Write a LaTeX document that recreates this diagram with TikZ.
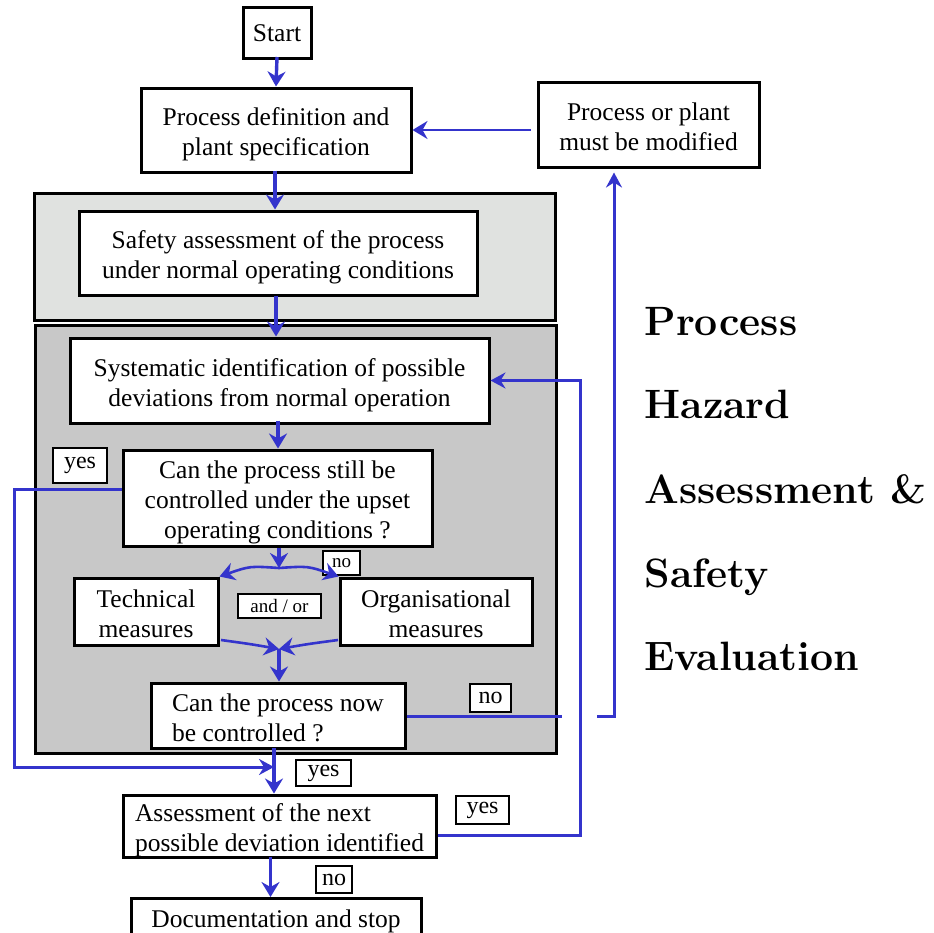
\documentclass[tikz,border=0pt]{standalone}
\usepackage{fontspec}
\newfontfamily\boxfont{Liberation Serif}
\usetikzlibrary{arrows.meta}
\definecolor{flowblue}{RGB}{52,52,204}
\definecolor{panellight}{RGB}{224,226,224}
\definecolor{paneldark}{RGB}{200,200,200}
% lines of a box, each on a full strut, set a little below the frame's middle
\newcommand\boxlines[2]{\raisebox{-4.5pt}[\height][\depth]{\begin{tabular}{@{}#1@{}}#2\end{tabular}}}
\begin{document}
\begin{tikzpicture}[x=1pt,y=-1pt,
  box/.style={draw=black, line width=3pt, fill=white, inner sep=0pt,
    font=\boxfont\fontsize{25.5}{30}\selectfont},
  tag/.style={draw=black, line width=2.6pt, fill=white, inner sep=0pt,
    font=\boxfont\fontsize{24}{26}\selectfont},
  smalltag/.style={tag, font=\boxfont\fontsize{19}{22}\selectfont},
  panel/.style={draw=black, line width=3pt},
  flow/.style={draw=flowblue, line width=3.4pt,
    -{Stealth[length=15pt,width=18pt,inset=5pt]}},
  loop/.style={draw=flowblue, line width=3pt},
  looparrow/.style={loop, -{Stealth[length=15pt,width=16pt,inset=5pt]}},
  title/.style={anchor=base west, font=\fontsize{41}{48}\selectfont\bfseries}
]
\clip (0,0) rectangle (934,932);
\useasboundingbox (0,0) rectangle (934,932);

% shaded panels
\path[panel, fill=panellight] (34,193) rectangle (555,320);
\path[panel, fill=paneldark] (35,325) rectangle (556,753);

% process steps
\node[box, minimum width=68pt, minimum height=51pt] (start) at (277,33) {Start};
\node[box, minimum width=270pt, minimum height=84pt] (procdef) at (276,130)
  {\boxlines{c}{Process definition and\\plant specification}};
\node[box, minimum width=221pt, minimum height=85pt] (modified) at (648.5,124.5)
  {\boxlines{c}{Process or plant\\must be modified}};
\node[box, minimum width=398pt, minimum height=84pt] (safety) at (278,253)
  {\boxlines{c}{Safety assessment of the process\\under normal operating conditions}};
\node[box, minimum width=419pt, minimum height=85pt] (systematic) at (279.5,380.5)
  {\boxlines{c}{Systematic identification of possible\\deviations from normal operation}};
\node[box, minimum width=309pt, minimum height=96pt] (canstill) at (277.5,498)
  {\boxlines{c}{Can the process still be\\controlled under the upset\\operating conditions ?}};
\node[box, minimum width=144pt, minimum height=67pt] (technical) at (146,611.5)
  {\boxlines{c}{Technical\\measures}};
\node[box, minimum width=192pt, minimum height=67pt] (organisational) at (436,611.5)
  {\boxlines{c}{Organisational\\measures}};
\node[box, minimum width=254pt, minimum height=65pt] (cannow) at (278,715.5)
  {\boxlines{l}{Can the process now\\be controlled ?}};
\node[box, minimum width=313pt, minimum height=62pt] (assess) at (279.5,826)
  {\boxlines{l}{Assessment of the next\\possible deviation identified}};
\node[box, minimum width=290pt, minimum height=46pt, anchor=north] (doc) at (276,897)
  {Documentation and stop};

% decision labels
\node[tag, minimum width=54pt, minimum height=35pt] (yesA) at (80,465.5) {yes};
\node[smalltag, minimum width=37pt, minimum height=24pt] (noA) at (341.5,563) {no};
\node[smalltag, minimum width=83pt, minimum height=24pt] (andor) at (279.5,606) {and / or};
\node[tag, minimum width=41pt, minimum height=28pt] (noB) at (490.5,698) {no};
\node[tag, minimum width=55pt, minimum height=26pt] (yesB) at (323.5,773) {yes};
\node[tag, minimum width=53pt, minimum height=28pt] (yesC) at (482.5,810) {yes};
\node[tag, minimum width=36pt, minimum height=27pt] (noC) at (334,879.5) {no};

% side title
\node[title] (t1) at (641,335) {Process};
\node[title] (t2) at (641,418) {Hazard};
\node[title] (t3) at (641,503) {Assessment \&};
\node[title] (t4) at (641,587) {Safety};
\node[title] (t5) at (641,670) {Evaluation};

% branch and merge points
\coordinate (split) at (279,568);
\coordinate (merge) at (279,649);
\coordinate (techout) at (221,640);
\coordinate (orgout) at (338,640);
\coordinate (hopL) at (562,716);
\coordinate (hopR) at (597,716);
\coordinate (noturn) at (614,716);
\coordinate (yesturnA) at (14,489);
\coordinate (yesturnB) at (14,767);
\coordinate (yesturnC) at (580,835);
\coordinate (stemtop) at (274,748);
\coordinate (stemjoin) at (274,767);

% main flow
\draw[flow] ([yshift=3pt]start.south) -- (procdef.north);
\draw[flow] ([xshift=-1pt,yshift=3pt]procdef.south) -- ([xshift=-1pt]procdef.south |- safety.north);
\draw[flow] ([xshift=-2pt,yshift=1pt]safety.south) -- ([xshift=-2pt]safety.south |- systematic.north);
\draw[flow] ([xshift=-1.5pt,yshift=4pt]systematic.south) -- ([xshift=-1.5pt]systematic.south |- canstill.north);
\draw[flow, line width=2.8pt, shorten <=6pt] (modified.west |- procdef.east) -- (procdef.east);

% split towards the two kinds of measures
\draw[flow] ([xshift=1.5pt]canstill.south) -- (split);
\draw[flow, line width=2.6pt] (split) .. controls (250,566) .. (technical.north east);
\draw[flow, line width=2.6pt] (split) .. controls (308,566) .. (organisational.north west);

% merge back into the check
\draw[flow, line width=2.6pt] (techout) .. controls (250,644) .. (merge);
\draw[flow, line width=2.6pt] (orgout) .. controls (308,644) .. (merge);
\draw[flow] (merge) -- (merge |- cannow.north);

% still controllable: go straight to the next deviation
\draw[looparrow] ([yshift=9pt]canstill.west) -- (yesturnA) -- (yesturnB) -- (stemjoin);
\draw[flow] (stemtop) -- (stemtop |- assess.north);

% not controllable: modify process or plant
\draw[loop] (cannow.east |- hopL) -- (hopL);
\draw[looparrow, shorten >=4pt] (hopR) -- (noturn) -- (noturn |- modified.south);

% next deviation: back to identification, or finish
\draw[looparrow] ([yshift=-9pt]assess.east) -- (yesturnC) -- (yesturnC |- systematic.east) -- (systematic.east);
\draw[flow] ([xshift=-9pt,yshift=2pt]assess.south) -- ([xshift=-9pt]assess.south |- doc.north);
\end{tikzpicture}
\end{document}
